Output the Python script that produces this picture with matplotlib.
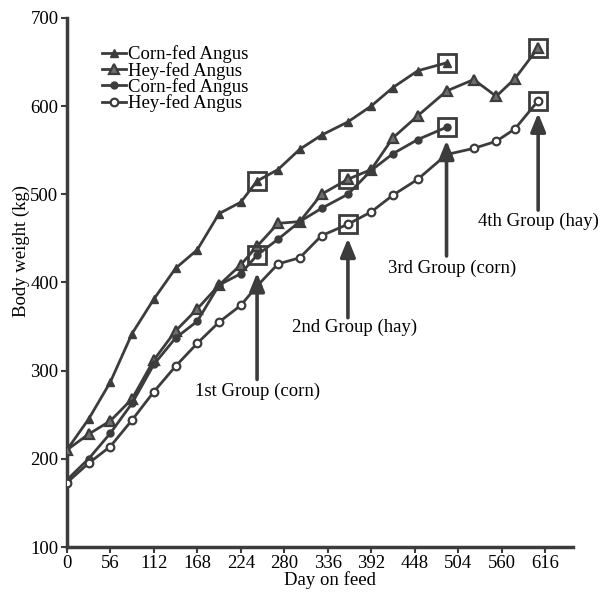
import matplotlib
matplotlib.use("Agg")
import matplotlib.pyplot as plt

# ---- data ----
corn_tri_days = [0, 28, 56, 84, 112, 140, 168, 196, 224, 245, 272, 300, 328, 362, 392, 420, 452, 489]
corn_tri_vals = [210, 245, 287, 342, 381, 416, 437, 478, 491, 515, 528, 551, 567, 582, 600, 621, 640, 649]

hay_tri_days = [0, 28, 56, 84, 112, 140, 168, 196, 224, 245, 272, 300, 328, 362, 392, 420, 452, 489, 524, 553, 577, 607]
hay_tri_vals = [210, 228, 243, 268, 312, 345, 370, 397, 420, 441, 467, 469, 500, 517, 528, 564, 589, 617, 630, 611, 631, 666]

corn_cir_days = [0, 28, 56, 84, 112, 140, 168, 196, 224, 245, 272, 300, 328, 362, 392, 420, 452, 489]
corn_cir_vals = [176, 200, 229, 263, 307, 337, 356, 397, 410, 431, 449, 469, 484, 500, 527, 546, 562, 576]

hay_cir_days = [0, 28, 56, 84, 112, 140, 168, 196, 224, 245, 272, 300, 328, 362, 392, 420, 452, 489, 524, 553, 577, 607]
hay_cir_vals = [173, 195, 214, 244, 276, 305, 331, 355, 374, 396, 421, 428, 453, 466, 480, 499, 517, 545, 552, 560, 574, 606]

legend_labels = ["Corn-fed Angus", "Hey-fed Angus", "Corn-fed Angus", "Hey-fed Angus"]

# group markers (squares): (day, value)
group_days = [245, 245, 362, 362, 489, 489, 607, 607]
group_vals = [515, 431, 517, 466, 649, 576, 666, 606]

group_labels = ["1st Group (corn)", "2nd Group (hay)", "3rd Group (corn)", "4th Group (hay)"]
arrow_days = [245, 362, 489, 607]
arrow_tip = [411, 450, 561, 592]
arrow_tail = [290, 360, 430, 482]
label_days = [245, 370, 496, 607]
label_vals = [276, 349, 416, 469]

x_ticks = [0, 56, 112, 168, 224, 280, 336, 392, 448, 504, 560, 616]
y_ticks = [100, 200, 300, 400, 500, 600, 700]

# ---- style ----
plt.rcParams['font.family'] = ['Liberation Serif', 'DejaVu Serif']
C = '#3c3c3c'
fs = 13.5

fig = plt.figure(figsize=(6.02, 5.94), dpi=100)
ax = fig.add_axes([0.111, 0.079, 0.841, 0.891])

lw = 2.0
ax.plot(corn_tri_days, corn_tri_vals, color=C, lw=lw, marker='^', ms=6,
        mfc=C, mec=C, label=legend_labels[0], zorder=3)
ax.plot(hay_tri_days, hay_tri_vals, color=C, lw=lw, marker='^', ms=7,
        mfc='#6e6e6e', mec=C, mew=1.6, label=legend_labels[1], zorder=3)
ax.plot(corn_cir_days, corn_cir_vals, color=C, lw=lw, marker='o', ms=5,
        mfc=C, mec=C, label=legend_labels[2], zorder=3)
ax.plot(hay_cir_days, hay_cir_vals, color=C, lw=lw, marker='o', ms=5.5,
        mfc='white', mec=C, mew=1.6, label=legend_labels[3], zorder=3)

ax.plot(group_days, group_vals, ls='none', marker='s', ms=13.5, mfc='none',
        mec=C, mew=2.0, zorder=4)

for i in range(4):
    ax.annotate('', xy=(arrow_days[i], arrow_tip[i]), xytext=(arrow_days[i], arrow_tail[i]),
                arrowprops=dict(arrowstyle='-|>,head_width=0.45,head_length=1.1',
                                color=C, lw=2.6, shrinkA=0, shrinkB=0), zorder=5)
for i in range(4):
    ax.text(label_days[i], label_vals[i], group_labels[i], ha='center', va='center',
            fontsize=fs, color='black')

ax.set_xlim(0, 652)
ax.set_ylim(100, 700)
ax.set_xticks(x_ticks)
ax.set_yticks(y_ticks)
ax.tick_params(labelsize=fs, colors=C, labelcolor='black', width=1.5, length=4, pad=2)
for s in ['top', 'right']:
    ax.spines[s].set_visible(False)
for s in ['left', 'bottom']:
    ax.spines[s].set_color(C)
    ax.spines[s].set_linewidth(2.5)
ax.set_xlabel('Day on feed', fontsize=fs)
ax.set_ylabel('Body weight (kg)', fontsize=fs)
ax.xaxis.set_label_coords(0.52, -0.045)
ax.yaxis.set_label_coords(-0.072, 0.56)

leg = ax.legend(loc='upper left', bbox_to_anchor=(0.055, 0.962), frameon=False,
                fontsize=fs, handlelength=1.25, handletextpad=0.15,
                labelspacing=-0.08, borderaxespad=0)

fig.savefig('out.png', dpi=100)
